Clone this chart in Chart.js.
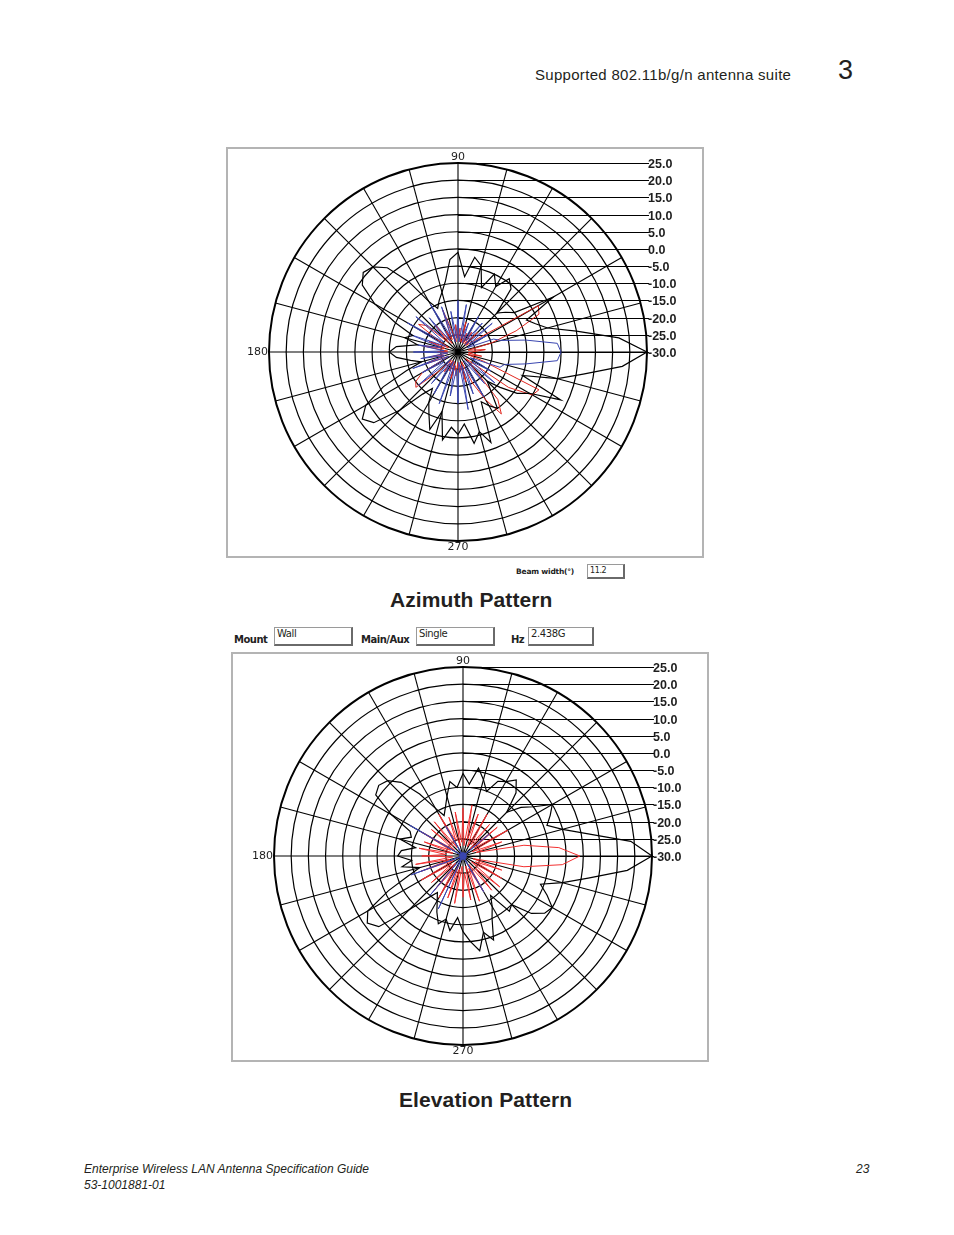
<!DOCTYPE html>
<html>
<head>
<meta charset="utf-8">
<script src="https://cdn.jsdelivr.net/npm/chart.js@4.4.1/dist/chart.umd.min.js"></script>
<style>
  html, body { margin: 0; padding: 0; background: #fff; }
  body { width: 954px; height: 1235px; position: relative; overflow: hidden;
         font-family: "Liberation Sans", Arial, sans-serif; color: #231f20; }
  .t { position: absolute; white-space: nowrap; }
  .frame { position: absolute; box-sizing: border-box; border: 2px solid #b4b4b4; }
  .field { position: absolute; box-sizing: border-box; background: #fff;
           border: 1px solid #9a9a9a; border-right: 2px solid #6a6a6a; border-bottom: 2px solid #6a6a6a;
           font: 10px "DejaVu Sans", sans-serif; letter-spacing: -0.4px; padding-left: 2px; line-height: 12px; }
  .lbl { position: absolute; white-space: nowrap; font: bold 10px "DejaVu Sans", sans-serif; letter-spacing: -0.5px; color: #222; }
  canvas { position: absolute; }
</style>
</head>
<body>

<div class="t" style="left:535px; top:66px; font-size:15px; letter-spacing:0.3px;">Supported 802.11b/g/n antenna suite</div>
<div class="t" style="left:838px; top:55px; font-size:27px;">3</div>

<!-- azimuth -->
<div class="frame" style="left:226px; top:147px; width:478px; height:411px;"></div>
<canvas id="azChart" width="474" height="407" style="left:228px; top:149px;"></canvas>
<div class="lbl" style="left:516px; top:567px; font-size:7.5px; letter-spacing:-0.2px;">Beam width(°)</div>
<div class="field" style="left:587px; top:564px; width:38px; height:15px; font-size:8px; line-height:11px;">11.2</div>
<div class="t" style="left:390px; top:588px; font-size:21px; font-weight:bold; letter-spacing:0.1px;">Azimuth Pattern</div>

<!-- elevation -->
<div class="lbl" style="left:234px; top:634px;">Mount</div>
<div class="field" style="left:274px; top:627px; width:79px; height:19px;">Wall</div>
<div class="lbl" style="left:361px; top:634px;">Main/Aux</div>
<div class="field" style="left:416px; top:627px; width:79px; height:19px;">Single</div>
<div class="lbl" style="left:511px; top:634px;">Hz</div>
<div class="field" style="left:528px; top:627px; width:66px; height:19px;">2.438G</div>
<div class="frame" style="left:231px; top:652px; width:478px; height:410px;"></div>
<canvas id="elChart" width="474" height="406" style="left:233px; top:654px;"></canvas>
<div class="t" style="left:399px; top:1088px; font-size:21px; font-weight:bold; letter-spacing:0.1px;">Elevation Pattern</div>

<div class="t" style="left:84px; top:1162px; font-size:12px; font-style:italic;">Enterprise Wireless LAN Antenna Specification Guide</div>
<div class="t" style="left:84px; top:1178px; font-size:12px; font-style:italic;">53-1001881-01</div>
<div class="t" style="left:856px; top:1162px; font-size:12px; font-style:italic;">23</div>

<script>
// angles 0..355 in 5 degree steps, counter-clockwise from the right (0 = east, 90 = north)
const angles = [];
for (let a = 0; a < 360; a += 5) angles.push(a);

// radial axis (dB), centre -30 to rim 25
const ringValues = [25, 20, 15, 10, 5, 0, -5, -10, -15, -20, -25, -30];
const compassLabels = ['90', '180', '270'];

// ---- azimuth pattern (values in dB per angle above)
const azBlack = [25, 17, 5, -3, -6, -8, 2, -10, -12, -14, -6, -4,
                 -8, -5, -10, -4, -2, -8, -1, -3, -9, -12, -14, -16,
                 -13, -5, 2, 5, 6, 4, -2, -10, -16, -14, -18, -12,
                 -10, -12, -16, -19, -14, -6, 1, 4, 2, -6, -14, -17,
                 -13, -10, -6, -12, -4, -8, -6, -9, -3, -6, -2, -14,
                 -12, -10, -15, -18, -14, -9, -6, 3, -10, 0, 7, 18];
const azRed   = [-26, -22, -27, -20, -12, -4, -3, -24, -27, -22, -27, -23,
                 -27, -24, -27, -21, -27, -23, -26, -22, -27, -24, -17, -26,
                 -23, -27, -20, -26, -18, -16, -24, -27, -21, -26, -19, -27,
                 -24, -27, -22, -26, -20, -27, -18, -15, -14, -22, -27, -23,
                 -27, -24, -27, -22, -26, -23, -27, -24, -26, -21, -27, -20,
                 -14, -8, -12, -24, -27, -12, -5, -4, -22, -27, -23, -27];
const azBlue  = [0, -1, -10, -17, -19, -27, -20, -26, -17, -27, -19, -26,
                 -18, -27, -21, -26, -16, -27, -15, -26, -18, -27, -16, -25,
                 -14, -26, -17, -24, -14, -25, -13, -26, -15, -25, -18, -26,
                 -17, -27, -19, -26, -16, -27, -18, -25, -15, -27, -18, -26,
                 -16, -27, -14, -26, -17, -25, -15, -27, -13, -26, -17, -25,
                 -15, -27, -18, -26, -16, -25, -19, -26, -17, -16, -10, -1];

// ---- elevation pattern
const elBlack = [25, 19, 7, 0, -4, -2, 0, -5, -8, -12, -6, -3,
                 -5, -6, -10, -7, -4, -9, -6, -10, -8, -12, -15, -17,
                 -14, -8, -2, 1, 2, 1, -6, -13, -14, -11, -16, -12,
                 -11, -15, -12, -17, -13, -6, 2, 4, 2, -8, -14, -17,
                 -15, -12, -9, -11, -8, -12, -8, -5, -2, -7, -4, -10,
                 -13, -16, -9, -10, -4, -1, 0, -3, -6, 0, 7, 18];
const elRed   = [4, -2, -12, -26, -18, -27, -15, -26, -17, -27, -18, -26,
                 -16, -27, -17, -25, -15, -27, -16, -26, -17, -27, -18, -25,
                 -16, -27, -17, -26, -18, -27, -16, -26, -18, -27, -17, -25,
                 -18, -27, -16, -26, -17, -27, -16, -26, -18, -27, -17, -25,
                 -16, -27, -17, -26, -16, -27, -18, -25, -17, -27, -16, -26,
                 -18, -27, -17, -25, -16, -27, -17, -26, -18, -27, -12, -1];
const elBlue  = [-29, -30, -29, -30, -29, -30, -29, -30, -20, -30, -29, -30,
                 -29, -30, -29, -30, -29, -30, -29, -30, -29, -30, -29, -30,
                 -20, -30, -29, -30, -29, -30, -12, -30, -29, -30, -29, -30,
                 -29, -30, -29, -30, -14, -30, -29, -30, -29, -30, -15, -30,
                 -29, -13, -30, -29, -30, -29, -30, -29, -30, -29, -30, -29,
                 -18, -30, -29, -30, -29, -30, -29, -30, -29, -30, -29, -30];

// radar charts run clockwise from the top, so reorder: index i -> angle 90 - 5i
const order = angles.map((_, i) => (((90 - 5 * i) % 360) + 360) % 360 / 5);
const toRadar = arr => order.map(k => arr[k]);
const radarLabels = order.map(k => angles[k]);

const leaderPlugin = {
  id: 'leaders',
  beforeDatasetsDraw(chart) {
    const s = chart.scales.r;
    const c = chart.ctx;
    const x0 = s.xCenter, y0 = s.yCenter, R = s.drawingArea;
    c.save();
    c.strokeStyle = '#000';
    c.lineWidth = 1.2;
    c.fillStyle = '#1e1e1e';
    c.font = 'bold 12.5px "Liberation Sans", Arial, sans-serif';
    c.textAlign = 'left';
    c.textBaseline = 'middle';
    ringValues.forEach(v => {
      const y = Math.round(y0 - s.getDistanceFromCenterForValue(v)) + 0.5;
      c.beginPath();
      c.moveTo(x0, y);
      c.lineTo(x0 + R + 2, y);
      c.stroke();
      c.fillText(v.toFixed(1), x0 + R + 1, y + 1);
    });
    c.font = '11px "DejaVu Sans", sans-serif';
    c.textAlign = 'center';
    c.textBaseline = 'bottom';
    c.fillText(compassLabels[0], x0, y0 - R);
    c.textAlign = 'right';
    c.textBaseline = 'middle';
    c.fillText(compassLabels[1], x0 - R - 1, y0);
    c.textAlign = 'center';
    c.textBaseline = 'top';
    c.fillText(compassLabels[2], x0, y0 + R + 1);
    c.restore();
  }
};

function makePolar(id, black, red, blue, pad, redColor) {
  new Chart(document.getElementById(id), {
    type: 'radar',
    data: {
      labels: radarLabels,
      datasets: [
        { data: toRadar(black), borderColor: '#000', borderWidth: 1.2 },
        { data: toRadar(blue), borderColor: '#3a46b0', borderWidth: 1 },
        { data: toRadar(red), borderColor: redColor, borderWidth: 1 }
      ]
    },
    options: {
      responsive: false,
      animation: false,
      layout: { padding: pad },
      plugins: { legend: { display: false }, tooltip: { enabled: false } },
      elements: {
        point: { radius: 0, hoverRadius: 0 },
        line: { tension: 0, fill: false }
      },
      scales: {
        r: {
          min: -30,
          max: 25,
          ticks: { stepSize: 5, display: false },
          pointLabels: { display: false },
          grid: {
            circular: true,
            color: '#000',
            lineWidth: ctx => (ctx.index === ringValues.length - 1 ? 2 : 1.2)
          },
          angleLines: {
            color: '#000',
            lineWidth: ctx => (ctx.index % 3 === 0 ? 1.1 : 0)
          }
        }
      }
    },
    plugins: [leaderPlugin]
  });
}

makePolar('azChart', azBlack, azRed, azBlue, { left: 41, right: 55, top: 14, bottom: 15 }, '#e0261e');
makePolar('elChart', elBlack, elRed, elBlue, { left: 41, right: 55, top: 13, bottom: 15 }, '#f23030');
</script>
</body>
</html>
